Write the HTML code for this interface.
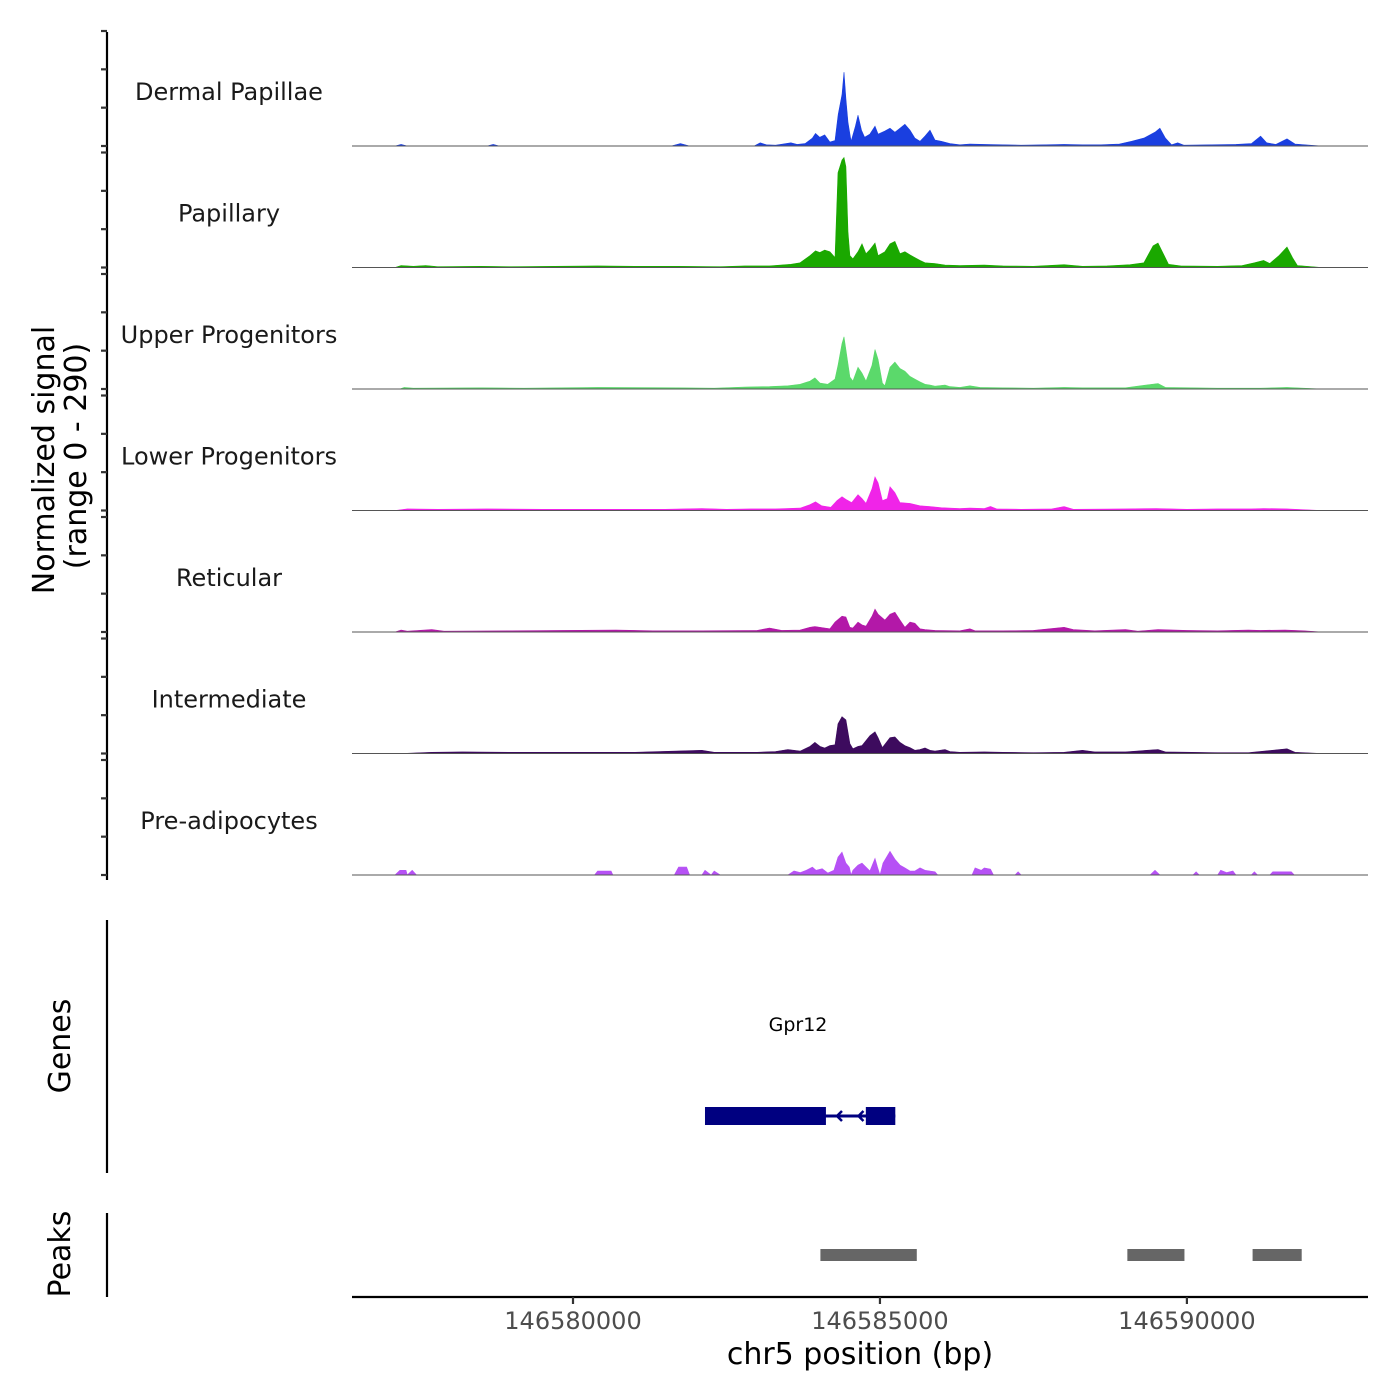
<!DOCTYPE html>
<html><head><meta charset="utf-8"><style>
html,body{margin:0;padding:0;background:#fff;}
svg{display:block;font-family:"DejaVu Sans","Liberation Sans",sans-serif;}
</style></head><body>
<svg id="chart" width="1400" height="1400" viewBox="0 0 1400 1400">
  <g id="tracks"></g>
  <line x1="107" y1="32" x2="107" y2="880" stroke="#000" stroke-width="2.2"/>
  <g id="yticks"></g>
  <text transform="translate(54,460) rotate(-90)" text-anchor="middle" font-size="30" fill="#000">Normalized signal</text>
  <text transform="translate(86,456) rotate(-90)" text-anchor="middle" font-size="30" fill="#000">(range 0 - 290)</text>

  <line x1="107" y1="920" x2="107" y2="1173" stroke="#000" stroke-width="2.2"/>
  <text transform="translate(70,1046) rotate(-90)" text-anchor="middle" font-size="30" fill="#000">Genes</text>
  <text x="798" y="1031" text-anchor="middle" font-size="19" fill="#000">Gpr12</text>
  <g id="gene"></g>

  <line x1="107" y1="1213" x2="107" y2="1297" stroke="#000" stroke-width="2.2"/>
  <text transform="translate(70,1254) rotate(-90)" text-anchor="middle" font-size="30" fill="#000">Peaks</text>
  <g id="peaks"></g>

  <line x1="352" y1="1297" x2="1368" y2="1297" stroke="#000" stroke-width="2.2"/>
  <g id="xticks"></g>
  <text x="860" y="1364" text-anchor="middle" font-size="30" fill="#000">chr5 position (bp)</text>
</svg>
<script>
const trackNames = ["Dermal Papillae","Papillary","Upper Progenitors","Lower Progenitors","Reticular","Intermediate","Pre-adipocytes"];
const trackColors = ["#1a3fe0","#1aa800","#5bd96b","#f024e8","#b318a8","#3d0b5e","#b651f5"];
const xTicks = [146580000,146585000,146590000];
const peakStarts = [146584030,146589030,146591070];
const peakEnds = [146585600,146589960,146591870];
const geneExons = [[146582150,146584120],[146584770,146585250]];
const geneSpan = [146582150,146585250];

const dermal = [[146577100,0],[146577200,4],[146577300,0],[146578600,0],[146578700,4],[146578800,0],[146581600,0],[146581750,6],[146581900,0],[146582950,0],[146583050,8],[146583150,3],[146583300,2],[146583550,8],[146583650,4],[146583780,6],[146583900,20],[146583950,32],[146584020,22],[146584100,28],[146584185,10],[146584267,14],[146584320,80],[146584381,130],[146584414,187],[146584446,120],[146584479,60],[146584530,12],[146584600,50],[146584642,78],[146584700,40],[146584750,22],[146584837,30],[146584919,50],[146584970,30],[146585081,38],[146585163,45],[146585244,35],[146585326,45],[146585407,55],[146585489,40],[146585570,20],[146585652,12],[146585733,25],[146585815,40],[146585896,15],[146586000,12],[146586140,6],[146586303,3],[146586466,5],[146586700,4],[146587000,3],[146587300,2],[146587700,3],[146588000,4],[146588300,3],[146588600,3],[146588900,5],[146589100,12],[146589300,20],[146589480,35],[146589560,45],[146589650,20],[146589750,3],[146589850,8],[146589950,2],[146590400,3],[146590800,4],[146591050,6],[146591200,25],[146591300,8],[146591450,4],[146591630,18],[146591761,5],[146592000,2],[146592200,0]];
const papillary = [[146577100,0],[146577200,5],[146577400,3],[146577600,5],[146577800,2],[146578500,3],[146579000,2],[146580400,4],[146581000,3],[146581700,3],[146582400,2],[146582800,4],[146583200,4],[146583550,8],[146583700,12],[146583860,30],[146583950,42],[146584020,38],[146584100,44],[146584185,40],[146584267,25],[146584316,240],[146584381,272],[146584414,278],[146584446,255],[146584479,90],[146584511,30],[146584560,22],[146584642,40],[146584707,60],[146584772,35],[146584837,45],[146584919,62],[146584970,30],[146585081,40],[146585163,60],[146585244,66],[146585326,35],[146585407,40],[146585489,32],[146585570,25],[146585652,18],[146585733,12],[146585896,10],[146586059,6],[146586303,5],[146586700,6],[146587000,4],[146587500,3],[146588000,7],[146588300,3],[146588700,4],[146589073,7],[146589300,12],[146589450,55],[146589529,62],[146589600,40],[146589700,8],[146589900,4],[146590500,3],[146590900,5],[146591100,12],[146591250,18],[146591350,10],[146591500,30],[146591631,52],[146591720,25],[146591800,5],[146592200,0]];
const upper = [[146577180,0],[146577250,4],[146577400,2],[146578500,3],[146579200,2],[146580400,4],[146581700,3],[146582300,2],[146582800,5],[146583200,6],[146583500,8],[146583700,12],[146583860,20],[146583941,28],[146584023,15],[146584150,12],[146584267,25],[146584316,60],[146584381,115],[146584414,132],[146584446,100],[146584511,30],[146584560,20],[146584642,55],[146584707,40],[146584772,20],[146584870,60],[146584919,100],[146584970,75],[146585040,15],[146585081,8],[146585163,55],[146585244,68],[146585326,52],[146585407,45],[146585489,32],[146585570,25],[146585652,18],[146585733,12],[146585815,10],[146585896,7],[146586059,10],[146586140,6],[146586303,4],[146586466,8],[146586629,4],[146587000,3],[146587500,2],[146588000,4],[146588300,3],[146589000,3],[146589529,14],[146589650,4],[146590500,2],[146591200,2],[146591631,4],[146592200,0]];
const lower = [[146577100,0],[146577300,4],[146577800,3],[146578600,4],[146579500,3],[146580500,3],[146581500,3],[146582100,5],[146582500,3],[146582900,4],[146583300,4],[146583700,6],[146583860,15],[146583950,22],[146584050,12],[146584200,8],[146584300,25],[146584381,35],[146584446,28],[146584540,20],[146584642,40],[146584707,30],[146584772,18],[146584870,55],[146584919,85],[146584970,70],[146585040,25],[146585120,30],[146585163,60],[146585244,45],[146585326,20],[146585489,18],[146585652,12],[146585815,10],[146586000,7],[146586300,5],[146586466,6],[146586700,5],[146586800,10],[146586900,4],[146587300,3],[146587800,4],[146588000,10],[146588150,3],[146589000,4],[146589500,5],[146590000,3],[146590500,4],[146591050,4],[146591250,5],[146591631,4],[146592200,0]];
const reticular = [[146577100,0],[146577200,5],[146577300,2],[146577700,6],[146577900,2],[146579000,3],[146580700,5],[146581300,3],[146582100,3],[146583000,4],[146583200,10],[146583400,4],[146583700,5],[146583860,12],[146583941,14],[146584100,10],[146584185,8],[146584267,25],[146584381,40],[146584446,38],[146584511,12],[146584560,10],[146584642,25],[146584707,18],[146584772,15],[146584870,40],[146584919,58],[146584970,45],[146585081,30],[146585163,45],[146585244,50],[146585326,30],[146585407,12],[146585489,25],[146585570,22],[146585652,8],[146585733,6],[146585896,4],[146586300,3],[146586466,8],[146586550,3],[146587000,3],[146587500,4],[146588000,12],[146588150,6],[146588500,3],[146589000,6],[146589200,2],[146589529,6],[146590000,4],[146590500,3],[146591000,5],[146591200,4],[146591600,5],[146591900,3],[146592200,0]];
const intermediate = [[146577200,0],[146577700,3],[146578200,4],[146579000,3],[146580000,3],[146581000,3],[146582100,8],[146582300,3],[146583000,3],[146583300,5],[146583500,10],[146583700,6],[146583860,18],[146583941,28],[146584023,18],[146584100,14],[146584185,20],[146584267,22],[146584316,75],[146584381,93],[146584446,85],[146584511,25],[146584560,12],[146584642,18],[146584707,20],[146584837,45],[146584919,55],[146584970,40],[146585040,15],[146585163,40],[146585244,42],[146585326,28],[146585407,20],[146585489,15],[146585570,8],[146585652,10],[146585733,14],[146585815,8],[146585896,6],[146586059,10],[146586140,5],[146586300,3],[146586700,4],[146587000,3],[146587500,2],[146588000,3],[146588300,8],[146588500,4],[146589000,4],[146589529,10],[146589650,4],[146590500,2],[146591000,2],[146591631,12],[146591761,3],[146592200,0]];
const preadipo = [[146577100,0],[146577180,12],[146577280,12],[146577300,0],[146577380,12],[146577450,0],[146580350,0],[146580400,10],[146580620,10],[146580650,0],[146581650,0],[146581720,20],[146581850,20],[146581900,0],[146582100,0],[146582150,12],[146582250,0],[146582300,10],[146582400,0],[146583500,0],[146583600,10],[146583700,6],[146583800,12],[146583900,20],[146583960,12],[146584060,16],[146584150,5],[146584250,12],[146584316,45],[146584381,58],[146584446,30],[146584500,20],[146584530,0],[146584560,12],[146584642,25],[146584707,30],[146584772,20],[146584837,10],[146584919,42],[146584960,20],[146585000,0],[146585050,30],[146585163,60],[146585244,40],[146585326,25],[146585407,18],[146585489,10],[146585570,10],[146585652,18],[146585733,12],[146585815,10],[146585896,8],[146585940,0],[146586500,0],[146586550,18],[146586650,12],[146586700,18],[146586800,15],[146586850,0],[146587200,0],[146587250,8],[146587300,0],[146589400,0],[146589480,12],[146589560,0],[146590100,0],[146590150,8],[146590200,0],[146590500,0],[146590550,12],[146590650,6],[146590750,10],[146590800,0],[146591050,0],[146591100,8],[146591150,0],[146591350,0],[146591400,8],[146591700,8],[146591750,0]];
const trackData = [dermal,papillary,upper,lower,reticular,intermediate,preadipo];

const NS = "http://www.w3.org/2000/svg";
const X0 = 352, X1 = 1368, BP0 = 146576400, BP1 = 146592950;
function xScale(bp){ return X0 + (bp - BP0) * (X1 - X0) / (BP1 - BP0); }
const baseY0 = 146, trackStep = 121.5, yPerUnit = 114.6 / 290;
function yScale(i, v){ return baseY0 + i * trackStep - v * yPerUnit; }
function mk(tag, attrs, parent){ const e = document.createElementNS(NS, tag); for (const k in attrs) e.setAttribute(k, attrs[k]); parent.appendChild(e); return e; }

const tracksG = document.getElementById('tracks');
const yt = document.getElementById('yticks');
trackData.forEach((data, i) => {
  const base = yScale(i, 0);
  const g = mk('g', {}, tracksG);
  
  
  let d = 'M' + xScale(data[0][0]).toFixed(1) + ',' + base;
  data.forEach(p => { d += ' L' + xScale(p[0]).toFixed(1) + ',' + yScale(i, p[1]).toFixed(1); });
  d += ' L' + xScale(data[data.length - 1][0]).toFixed(1) + ',' + base + ' Z';
  const area = mk('path', {d: d, fill: trackColors[i], stroke: trackColors[i], 'stroke-width': 0.6}, g);
  
  
  const bl = mk('line', {x1: X0, x2: X1, y1: base, y2: base, stroke: '#555', 'stroke-width': 1}, g);
  
  
  const lab = mk('text', {x: 229, y: base - 46, 'text-anchor': 'middle', 'font-size': 24, fill: '#1a1a1a'}, g);
  lab.textContent = trackNames[i];
  
  
  for (let k = 0; k < 4; k++) {
    const ty = yScale(i, k * 97);
    const t = mk('line', {x1: 101, x2: 107, y1: ty, y2: ty, stroke: '#333', 'stroke-width': 2.2}, yt);
    
    
  }
});

const xt = document.getElementById('xticks');
xTicks.forEach(v => {
  const x = xScale(v);
  const t = mk('line', {x1: x, x2: x, y1: 1297, y2: 1304, stroke: '#333', 'stroke-width': 2.2}, xt);
  
  
  const l = mk('text', {x: x, y: 1329, 'text-anchor': 'middle', 'font-size': 24, fill: '#4d4d4d'}, xt);
  l.textContent = String(v);
  
  
});

const pk = document.getElementById('peaks');
peakStarts.forEach((s, i) => {
  const r = mk('rect', {x: xScale(s), y: 1249, width: xScale(peakEnds[i]) - xScale(s), height: 12, fill: '#666'}, pk);
  
  
});

const gg = document.getElementById('gene');
const gl = mk('line', {x1: xScale(geneSpan[0]), x2: xScale(geneSpan[1]), y1: 1116, y2: 1116, stroke: '#000080', 'stroke-width': 3}, gg);


geneExons.forEach(ex => {
  const r = mk('rect', {x: xScale(ex[0]), y: 1107, width: xScale(ex[1]) - xScale(ex[0]), height: 18, fill: '#000080'}, gg);
  
  
});
[146584300, 146584650].forEach(p => {
  const x = xScale(p);
  const a = mk('path', {d: 'M' + (x + 5) + ',1111 L' + x + ',1116 L' + (x + 5) + ',1121', fill: 'none', stroke: '#000080', 'stroke-width': 2.5}, gg);
  
  
});
</script>
</body></html>
